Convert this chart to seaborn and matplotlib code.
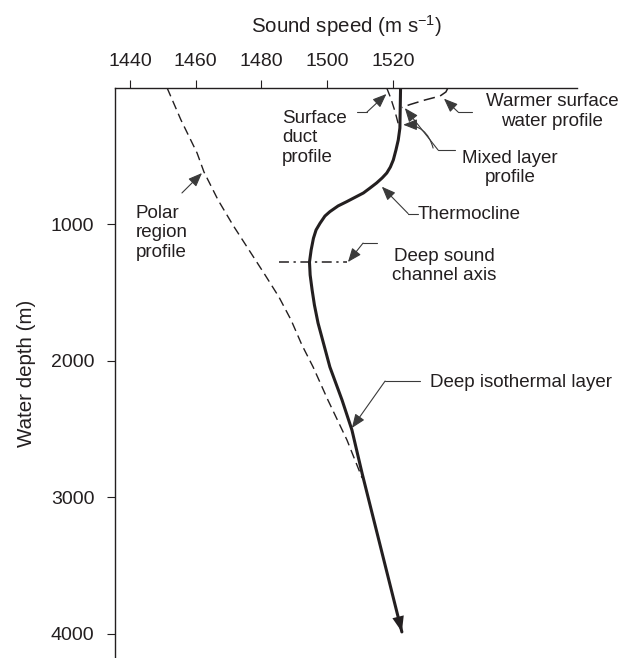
import matplotlib
matplotlib.use("Agg")
import matplotlib.pyplot as plt
import seaborn as sns
import pandas as pd

# Typical mid-latitude sound-speed profile (solid)
typical_depth = [0, 293, 381, 454, 527, 579, 623, 659, 696, 733, 769, 833, 864, 906, 938,
                 991, 1040, 1101, 1187, 1275, 1370, 1480, 1590, 1722, 1883, 2044, 2286,
                 2505, 2823, 3985]
typical_speed = [1522.3, 1522.1, 1521.6, 1520.9, 1520.1, 1519.2, 1518.1, 1516.7, 1515.0,
                 1513.0, 1511.0, 1505.9, 1503.3, 1500.8, 1499.3, 1497.8, 1496.6, 1495.8,
                 1495.1, 1494.6, 1494.8, 1495.4, 1496.1, 1497.2, 1499.0, 1500.8, 1504.5,
                 1507.5, 1510.6, 1522.7]

# Polar region profile (dashed)
polar_depth = [0, 234, 476, 615, 821, 1004, 1187, 1370, 1531, 1700, 1883, 2044, 2286,
               2579, 2857]
polar_speed = [1451.3, 1455.5, 1460.4, 1462.5, 1466.8, 1471.3, 1476.2, 1481.1, 1485.3,
               1489.0, 1492.3, 1495.7, 1500.2, 1506.0, 1510.6]

# Surface duct profile (dashed)
duct_depth = [0, 73, 171, 290]
duct_speed = [1518.1, 1519.3, 1520.6, 1521.9]

# Warmer surface water profile (dashed)
warm_depth = [0, 29, 59, 88, 121, 143]
warm_speed = [1536.7, 1536.1, 1534.3, 1529.7, 1525.2, 1522.7]

# Deep sound channel axis (dash-dot)
axis_depth = [1272, 1272]
axis_speed = [1485.3, 1506.0]

speed_ticks = [1440, 1460, 1480, 1500, 1520]
depth_ticks = [1000, 2000, 3000, 4000]

sns.set_theme(style="ticks")
plt.rcParams["font.family"] = ["Liberation Sans", "DejaVu Sans"]
plt.rcParams["mathtext.fontset"] = "custom"
plt.rcParams["mathtext.rm"] = "Liberation Sans"
plt.rcParams["mathtext.default"] = "regular"

INK = "#231f20"
LEAD = "#3a3a3a"
FS = 13.5

fig = plt.figure(figsize=(6.19, 6.58), dpi=100)
ax = fig.add_axes([115 / 619, 0.0, (577 - 115) / 619, (658 - 88) / 658])

thin_dash = (0, (6.5, 3.6))

sns.lineplot(data=pd.DataFrame({"s": polar_speed, "d": polar_depth}), x="s", y="d",
             sort=False, estimator=None, color=INK, lw=1.0, linestyle=thin_dash, ax=ax)
sns.lineplot(data=pd.DataFrame({"s": duct_speed, "d": duct_depth}), x="s", y="d",
             sort=False, estimator=None, color=INK, lw=1.0, linestyle=thin_dash, ax=ax)
sns.lineplot(data=pd.DataFrame({"s": warm_speed, "d": warm_depth}), x="s", y="d",
             sort=False, estimator=None, color=INK, lw=1.1, linestyle=(0, (7.5, 3.6)), ax=ax)
sns.lineplot(data=pd.DataFrame({"s": axis_speed, "d": axis_depth}), x="s", y="d",
             sort=False, estimator=None, color=INK, lw=1.1,
             linestyle=(0, (6.5, 3.0, 1.5, 3.0)), ax=ax)
sns.lineplot(data=pd.DataFrame({"s": typical_speed, "d": typical_depth}), x="s", y="d",
             sort=False, estimator=None, color=INK, lw=2.2, ax=ax)

# arrowhead at the deep end of the typical profile
ax.annotate("", xy=(typical_speed[-1], typical_depth[-1]),
            xytext=(typical_speed[-2], typical_depth[-2]),
            arrowprops=dict(arrowstyle="-|>,head_length=0.8,head_width=0.3",
                            mutation_scale=14, color=INK, lw=0.01,
                            shrinkA=0, shrinkB=0))

ax.set_xlim(1435.44, 1575.97)
ax.set_ylim(4176, 0)

arrow_kw = dict(arrowstyle="-|>,head_length=0.6,head_width=0.24", mutation_scale=14,
                color=LEAD, lw=0.8, shrinkA=0, shrinkB=0)


def leader(tip, start, elbow=None, conn="arc3"):
    if elbow is not None:
        ax.plot([elbow, start[0]], [start[1], start[1]], color=LEAD, lw=0.8)
    kw = dict(arrow_kw)
    kw["connectionstyle"] = conn
    ax.annotate("", xy=tip, xytext=start, arrowprops=kw)


# Surface duct profile
ax.text(1486.2, 364, "Surface\nduct\nprofile", ha="left", va="center",
        fontsize=FS, color=INK, linespacing=1.2)
leader((1518.0, 44), (1512.1, 176), elbow=1509.0)

# Warmer surface water profile
ax.text(1568.4, 172, "Warmer surface\nwater profile", ha="center", va="center",
        fontsize=FS, color=INK, linespacing=1.2)
leader((1535.5, 78), (1539.8, 176), elbow=1544.0)

# Mixed layer profile
ax.text(1555.6, 586, "Mixed layer\nprofile", ha="center", va="center",
        fontsize=FS, color=INK, linespacing=1.2)
leader((1523.6, 147), (1533.7, 454), elbow=1538.9)
leader((1523.1, 269), (1532.2, 440), conn="angle3,angleA=105,angleB=0")

# Thermocline
ax.text(1527.6, 930, "Thermocline", ha="left", va="center", fontsize=FS, color=INK)
leader((1516.6, 723), (1524.6, 920), elbow=1527.5)

# Deep sound channel axis
ax.text(1535.5, 1304, "Deep sound\nchannel axis", ha="center", va="center",
        fontsize=FS, color=INK, linespacing=1.2)
leader((1506.3, 1275), (1510.9, 1136), elbow=1515.1)

# Polar region profile
ax.text(1441.8, 1062, "Polar\nregion\nprofile", ha="left", va="center",
        fontsize=FS, color=INK, linespacing=1.2)
leader((1461.9, 623), (1455.8, 769))

# Deep isothermal layer
ax.text(1531.3, 2154, "Deep isothermal layer", ha="left", va="center",
        fontsize=FS, color=INK)
leader((1507.5, 2491), (1517.6, 2147), elbow=1528.2)

# axes styling
ax.xaxis.tick_top()
ax.xaxis.set_label_position("top")
ax.set_xticks(speed_ticks)
ax.set_yticks(depth_ticks)
ax.set_xlabel("Sound speed (m s$^{-1}$)", fontsize=14.8, color=INK, labelpad=15)
ax.set_ylabel("Water depth (m)", fontsize=14.8, color=INK, labelpad=11)
ax.tick_params(axis="both", direction="out", length=5.8, width=0.8, colors=INK,
               labelsize=14, labelcolor=INK)
ax.tick_params(axis="x", pad=7)
ax.tick_params(axis="y", pad=9)
for side in ("right", "bottom"):
    ax.spines[side].set_visible(False)
for side in ("top", "left"):
    ax.spines[side].set_color(INK)
    ax.spines[side].set_linewidth(1.0)
ax.set_facecolor("white")
fig.patch.set_facecolor("white")

fig.savefig("out.png", dpi=100)
